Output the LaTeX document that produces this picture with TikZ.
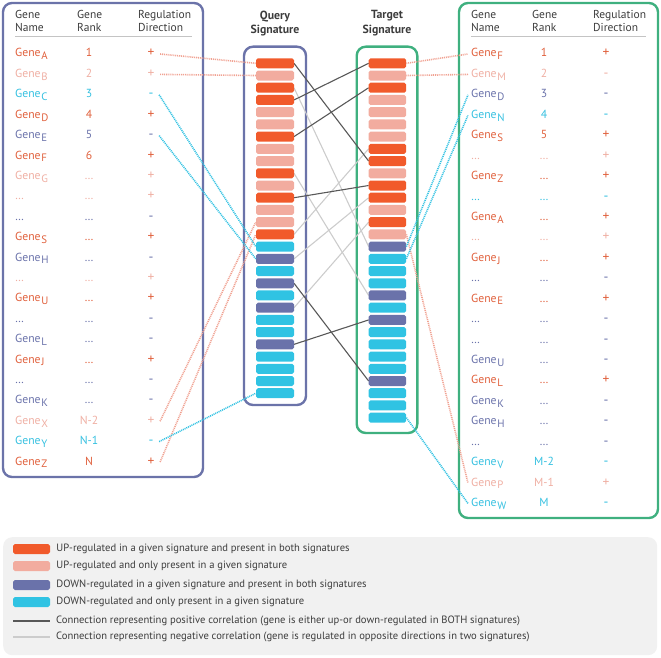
\documentclass[tikz,border=0pt]{standalone}
\usepackage{fontspec}
\setmainfont{PT Sans}
\usepackage{tikz}
\usetikzlibrary{positioning,calc}
\usepackage{xcolor}
\definecolor{barO}{HTML}{F15A2B}
\definecolor{barS}{HTML}{F2AC9F}
\definecolor{barD}{HTML}{6A72AA}
\definecolor{barC}{HTML}{30C3E3}
\definecolor{txO}{HTML}{E0603C}
\definecolor{txS}{HTML}{EFAFA3}
\definecolor{txD}{HTML}{6A72AA}
\definecolor{txC}{HTML}{35C0E0}
\definecolor{qryblue}{HTML}{6B73A9}
\definecolor{tgtgreen}{HTML}{3FB07F}
\definecolor{poscor}{HTML}{585858}
\definecolor{negcor}{HTML}{CCCCCC}
\definecolor{hdrgrey}{HTML}{3C3C3C}
\definecolor{rulegrey}{HTML}{C4C4C4}
\definecolor{legbg}{HTML}{F1F1F1}
\definecolor{dotsalmon}{HTML}{F0A292}
\definecolor{dotcyan}{HTML}{32C2E2}
\newcommand{\gn}[1]{Gene\kern0.8pt\raisebox{-2.8pt}{\fontsize{10.8}{11}\selectfont #1}}
\newcommand{\dd}{\dots}

\begin{document}
\begin{tikzpicture}[x=1pt, y=-1pt,
  bar/.style={rectangle, rounded corners=1.8pt, minimum width=38pt, minimum height=10pt, inner sep=0pt},
  sigbox/.style={rounded corners=9pt, line width=2.4pt},
  tbl/.style={font=\fontsize{11.7}{13}\selectfont, inner sep=0pt},
  hdr/.style={font=\fontsize{11.5}{12.5}\selectfont, text=hdrgrey, align=left, inner sep=0pt, anchor=north west},
  sigtitle/.style={font=\bfseries\fontsize{11.8}{14.5}\selectfont, text=hdrgrey, align=center, inner sep=0pt, anchor=north},
  gname/.style={tbl, anchor=base west, inner xsep=3pt, text height=8pt, text depth=2pt},
  grank/.style={tbl, anchor=base},
  gsign/.style={tbl, font=\fontsize{13.5}{14}\selectfont, anchor=base, inner xsep=5.5pt, text height=7pt, text depth=1pt},
  poslink/.style={draw=poscor, line width=1.1pt},
  neglink/.style={draw=negcor, line width=1.1pt},
  dotlink/.style={line width=1.6pt, dash pattern=on 1pt off 0.9pt},
  leg/.style={font=\fontsize{10.6}{11}\selectfont, text=hdrgrey, inner sep=0pt, anchor=west}
]
\useasboundingbox (0,0) rectangle (661,658);

% Gene tables
\draw[sigbox, qryblue] (3,3) rectangle (203,477);
\draw[sigbox, tgtgreen] (459,3) rectangle (658,518);
\node[hdr] (lhname) at (15,10.5) {Gene\\Name};
\node[hdr] (lhrank) at (77,10.5) {Gene\\Rank};
\node[hdr] (lhdir) at (138,10.5) {Regulation\\Direction};
\node[hdr] (rhname) at (471,10.5) {Gene\\Name};
\node[hdr] (rhrank) at (532,10.5) {Gene\\Rank};
\node[hdr] (rhdir) at (593,10.5) {Regulation\\Direction};
\coordinate (lrule0) at (15,36); \coordinate (lrule1) at (192,36);
\coordinate (rrule0) at (471,36); \coordinate (rrule1) at (646,36);
\draw[rulegrey, line width=0.8pt] (lrule0) -- (lrule1);
\draw[rulegrey, line width=0.8pt] (rrule0) -- (rrule1);

\foreach \nm/\rk/\sg/\cl [count=\i] in {\gn{A}/1/+/O, \gn{B}/2/+/S, \gn{C}/3/-/C, \gn{D}/4/+/O, \gn{E}/5/-/D, \gn{F}/6/+/O, \gn{G}/\dd/+/S, \dd/\dd/+/S, \dd/\dd/-/D, \gn{S}/\dd/+/O, \gn{H}/\dd/-/D, \dd/\dd/+/S, \gn{U}/\dd/+/O, \dd/\dd/-/D, \gn{L}/\dd/-/D, \gn{J}/\dd/+/O, \dd/\dd/-/D, \gn{K}/\dd/-/D, \gn{X}/N-2/+/S, \gn{Y}/N-1/-/C, \gn{Z}/N/+/O}{
  \pgfmathsetmacro{\yy}{57+20.4*(\i-1)}
  \node[gname, text=tx\cl] (ln\i) at (12,\yy) {\nm};
  \node[grank, text=tx\cl] (lr\i) at (89,\yy) {\rk};
  \node[gsign, text=tx\cl] (ls\i) at (151,\yy) {\sg};
}
\foreach \nm/\rk/\sg/\cl [count=\i] in {\gn{F}/1/+/O, \gn{M}/2/-/S, \gn{D}/3/-/D, \gn{N}/4/-/C, \gn{S}/5/+/O, \dd/\dd/+/S, \gn{Z}/\dd/+/O, \dd/\dd/-/C, \gn{A}/\dd/+/O, \dd/\dd/+/S, \gn{J}/\dd/+/O, \dd/\dd/-/D, \gn{E}/\dd/+/O, \dd/\dd/-/D, \dd/\dd/-/D, \gn{U}/\dd/-/D, \gn{L}/\dd/+/O, \gn{K}/\dd/-/D, \gn{H}/\dd/-/D, \dd/\dd/-/D, \gn{V}/M-2/-/C, \gn{P}/M-1/+/S, \gn{W}/M/-/C}{
  \pgfmathsetmacro{\yy}{57+20.43*(\i-1)}
  \node[gname, text=tx\cl] (rn\i) at (468,\yy) {\nm};
  \node[grank, text=tx\cl] (rr\i) at (544,\yy) {\rk};
  \node[gsign, text=tx\cl] (rs\i) at (606,\yy) {\sg};
}

% Signature columns
\node[sigtitle] (qtitle) at (275,10.5) {Query\\Signature};
\node[sigtitle] (ttitle) at (387,10.5) {Target\\Signature};
\draw[sigbox, qryblue] (244,46.7) rectangle (306,405);
\draw[sigbox, tgtgreen] (356.7,46.7) rectangle (417.3,433);

% Connections between signatures
\foreach \a/\b in {3/16,10/20,15/8,17/12,21/14}
  \draw[neglink] ($(275,63.3)+(19,{12.22*(\a-1)})$) -- ($(387.4,63.3)+(-18.75,{12.22*(\b-1)})$);
\foreach \a/\b in {1/9,4/1,7/3,12/11,19/27,24/22}
  \draw[poslink] ($(275,63.3)+(19,{12.22*(\a-1)})$) -- ($(387.4,63.3)+(-18.75,{12.22*(\b-1)})$);

\foreach \c [count=\i] in {O,S,O,O,S,S,O,S,S,O,S,O,S,S,O,C,D,C,D,C,D,C,C,D,C,C,C,C}
  \node[bar, fill=bar\c] (q\i) at (275,{63.3+12.22*(\i-1)}) {};
\foreach \c [count=\i] in {O,S,O,S,S,S,S,O,O,S,O,O,S,O,S,D,C,C,C,D,C,D,C,C,C,C,D,C,C,C}
  \node[bar, fill=bar\c, minimum width=37.5pt] (t\i) at (387.4,{63.3+12.22*(\i-1)}) {};

% Table rows to bars
\foreach \a/\b in {1/1,2/2,19/14,21/15}
  \draw[dotlink, dotsalmon] (ls\a.east) -- (q\b.west);
\foreach \a/\b in {3/16,5/17,20/28}
  \draw[dotlink, dotcyan] (ls\a.east) -- (q\b.west);
\foreach \a/\b in {1/1,2/2,15/22}
  \draw[dotlink, dotsalmon] (t\a.east) -- (rn\b.west);
\foreach \a/\b in {16/3,17/4,30/23}
  \draw[dotlink, dotcyan] (t\a.east) -- (rn\b.west);

% Legend
\node[fill=legbg, rounded corners=9pt, minimum width=654pt, minimum height=118pt, inner sep=0pt, anchor=north west] (legend) at (3,537) {};
\foreach \c/\yy/\txt [count=\i] in {O/549/{UP-regulated in a given signature and present in both signatures},
    S/566/{UP-regulated and only present in a given signature},
    D/585/{DOWN-regulated in a given signature and present in both signatures},
    C/602/{DOWN-regulated and only present in a given signature}}{
  \node[bar, fill=bar\c, minimum width=37pt] (sw\i) at (31.5,\yy) {};
  \node[leg, right=6pt of sw\i] (lt\i) {\txt};
}
\coordinate (pa0) at (13,621); \coordinate (pa1) at (50,621);
\coordinate (pb0) at (13,637); \coordinate (pb1) at (50,637);
\draw[poslink] (pa0) -- (pa1);
\draw[neglink] (pb0) -- (pb1);
\node[leg, right=6pt of pa1] (lt5) {Connection representing positive correlation (gene is either up-or down-regulated in BOTH signatures)};
\node[leg, right=6pt of pb1] (lt6) {Connection representing negative correlation (gene is regulated in opposite directions in two signatures)};

\end{tikzpicture}
\end{document}
